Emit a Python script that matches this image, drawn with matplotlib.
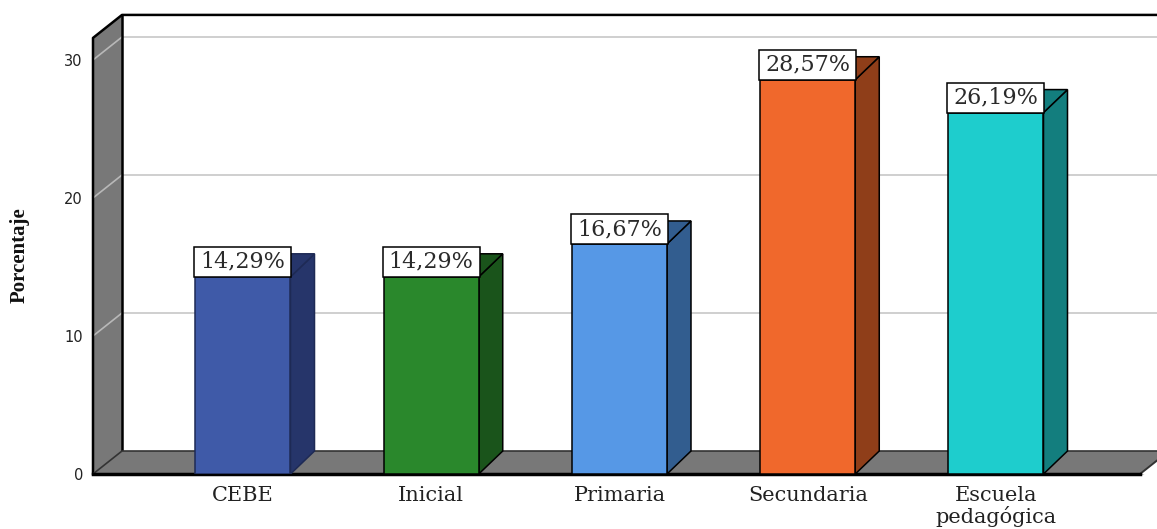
import matplotlib
matplotlib.use("Agg")
import matplotlib.pyplot as plt
from matplotlib.patches import Polygon, Rectangle

categories = ["CEBE", "Inicial", "Primaria", "Secundaria", "Escuela\npedagógica"]
values = [14.29, 14.29, 16.67, 28.57, 26.19]
labels = ["14,29%", "14,29%", "16,67%", "28,57%", "26,19%"]
yticks = [0, 10, 20, 30]
front_colors = ["#3F5AA8", "#2A882C", "#5698E6", "#F0682C", "#1ECDCD"]
side_colors = ["#26356A", "#1A541B", "#325D8F", "#8F3E19", "#137E7E"]
edge_colors = ["#1E2A55", "black", "black", "black", "black"]

W, H = 1157, 529
fig = plt.figure(figsize=(W / 100, H / 100), dpi=100)
fig.patch.set_facecolor("white")

# pixel geometry of the plotting frame
L, R, B, T = 85, 1157, 474, 0
xpx0, xstep = 243, 188.25
ypx = 13.8
ax = fig.add_axes([L / W, (H - B) / H, (R - L) / W, (B - T) / H])
ax.set_xlim((L - xpx0) / xstep, (R - xpx0) / xstep)
ax.set_ylim(0, (B - T) / ypx)
for s in ax.spines.values():
    s.set_visible(False)

dxw = 29 / xstep
dxb = 24 / xstep
dy = 23 / ypx
bw = 95 / xstep
wall_x = (93 - xpx0) / xstep
floor_r = (1140 - xpx0) / xstep
top = 31.6
xmax = ax.get_xlim()[1] + 1

wall_gray = "#787878"
# gridlines on back wall and left wall
for t in yticks[1:]:
    ax.plot([wall_x + dxw, xmax], [t + dy, t + dy], color="#CFCFCF", lw=1.4, zorder=1, clip_on=False)
    ax.plot([wall_x, wall_x + dxw], [t, t + dy], color="#B8B8B8", lw=1.2, zorder=3, clip_on=False)

# left wall
ax.add_patch(Polygon([(wall_x, 0), (wall_x, top), (wall_x + dxw, top + dy), (wall_x + dxw, dy)],
                     closed=True, facecolor=wall_gray, edgecolor="none", zorder=2, clip_on=False))
ax.plot([wall_x, wall_x, wall_x + dxw, xmax], [0, top, top + dy, top + dy], color="black", lw=1.8, zorder=4, clip_on=False)
ax.plot([wall_x + dxw, wall_x + dxw], [dy, top + dy], color="black", lw=1.8, zorder=4, clip_on=False)

# floor
ax.add_patch(Polygon([(wall_x, 0), (wall_x + dxw, dy), (floor_r + dxw + 0.5, dy), (floor_r, 0)],
                     closed=True, facecolor=wall_gray, edgecolor="#333333", lw=1.2, zorder=5, clip_on=False))
ax.add_patch(Polygon([(floor_r, 0), (floor_r + dxw, dy), (floor_r + dxw + 0.5, dy), (floor_r + 0.5, 0)],
                     closed=True, facecolor="white", edgecolor="none", zorder=5, clip_on=False))
ax.plot([floor_r, floor_r + dxw], [0, dy], color="#333333", lw=1.4, zorder=6, clip_on=False)
ax.plot([wall_x, floor_r], [0, 0], color="black", lw=2.5, zorder=6, clip_on=False)

# bars
xs = list(range(len(categories)))
for xi, v, fc, sc, ec, lab in zip(xs, values, front_colors, side_colors, edge_colors, labels):
    xl, xr = xi - bw / 2, xi + bw / 2
    ax.add_patch(Polygon([(xr, 0), (xr + dxb, dy), (xr + dxb, v + dy), (xr, v)], closed=True,
                         facecolor=sc, edgecolor=ec, lw=1.1, zorder=7))
    ax.add_patch(Polygon([(xl, v), (xl + dxb, v + dy), (xr + dxb, v + dy), (xr, v)], closed=True,
                         facecolor=sc, edgecolor=ec, lw=1.1, zorder=7))
    ax.bar(xi, v, width=bw, bottom=0, color=fc, edgecolor=ec, lw=1.1, zorder=8)
    bh = 30 / ypx
    ax.add_patch(Rectangle((xl - 1 / xstep, v), bw + 2 / xstep, bh, facecolor="white",
                           edgecolor="black", lw=1.1, zorder=9))
    ax.text(xi, v + bh / 2, lab, ha="center", va="center", fontsize=16,
            family="DejaVu Serif", color="#2a2a2a", zorder=10)

ax.set_yticks(yticks)
ax.set_yticklabels([str(t) for t in yticks], fontsize=10.5, family="DejaVu Sans", color="#222222")
ax.set_xticks(xs)
ax.set_xticklabels(categories, fontsize=15, family="DejaVu Serif", color="#222222", linespacing=1.05)
ax.tick_params(axis="both", length=0)
ax.tick_params(axis="y", pad=1.5)
ax.tick_params(axis="x", pad=8.5)

fig.text(20 / W, 1 - 255 / H, "Porcentaje", rotation=90, ha="center", va="center",
         fontsize=15, family="Liberation Serif", weight="bold", color="#111111")

fig.savefig("out.png", dpi=100, facecolor="white")
